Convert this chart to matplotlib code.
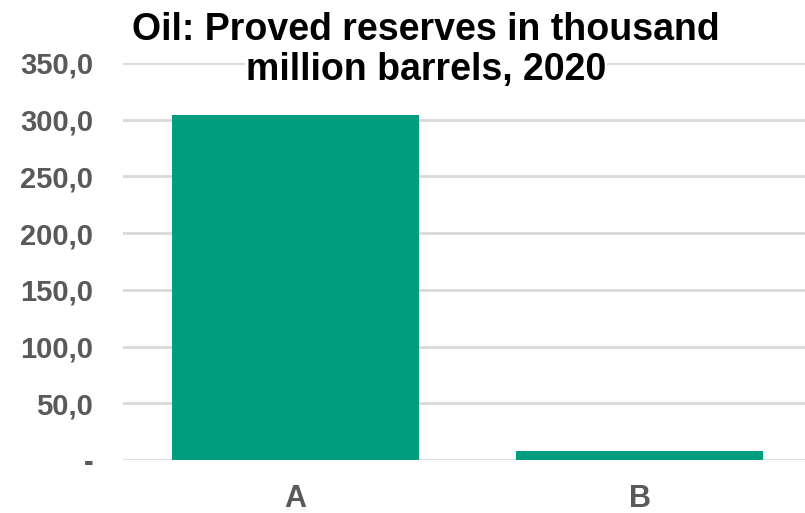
import matplotlib
matplotlib.use("Agg")
import matplotlib.pyplot as plt

categories = ["A", "B"]
values = [303.8, 7.9]
yticks = [0, 50, 100, 150, 200, 250, 300, 350]
ytick_labels = ["-", "50,0", "100,0", "150,0", "200,0", "250,0", "300,0", "350,0"]
title_lines = ["Oil: Proved reserves in thousand", "million barrels, 2020"]

plt.rcParams['font.family'] = ['Liberation Sans', 'DejaVu Sans']
W, H = 805, 513
fig = plt.figure(figsize=(W/100, H/100), dpi=100)
ax = fig.add_axes([123/W, (H-460)/H, (W-123)/W, (460-63)/H])

x = list(range(len(categories)))
ax.bar(x, values, width=0.718, color="#009E7E", zorder=2)
ax.set_xlim(-0.5015, 1.481)
ax.set_ylim(0, 350)
ax.set_yticks(yticks)
ax.set_yticklabels(ytick_labels)
ax.set_xticks(x)
ax.set_xticklabels(categories)
ax.grid(axis='y', color="#D9D9D9", linewidth=2, zorder=0)
for s in ax.spines.values():
    s.set_visible(False)
ax.tick_params(axis='both', length=0, labelcolor="#595959")
ax.tick_params(axis='y', pad=21.5, labelsize=21)
ax.tick_params(axis='x', pad=17, labelsize=22)
for lbl in ax.get_yticklabels() + ax.get_xticklabels():
    lbl.set_fontweight('bold')

for i, (line, base) in enumerate(zip(title_lines, [40, 80])):
    fig.text(426/W, 1 - base/H, line, ha='center', va='baseline', fontsize=27,
             fontweight='bold', color='black',
             bbox=dict(facecolor='white', edgecolor='none', pad=0.5))

fig.savefig("out.png", dpi=100)
